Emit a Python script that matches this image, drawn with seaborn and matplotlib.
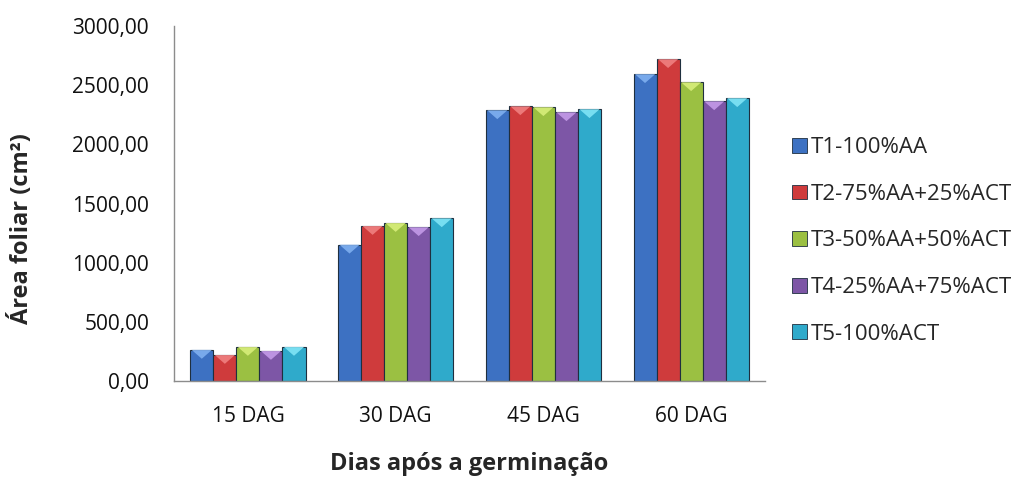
"""Leaf area by days after germination, five treatments (grouped bars)."""

import matplotlib
matplotlib.use("Agg")
import matplotlib.pyplot as plt
from matplotlib.patches import Polygon
from matplotlib.ticker import FuncFormatter
import pandas as pd
import seaborn as sns

DAYS = ["15 DAG", "30 DAG", "45 DAG", "60 DAG"]
TREATMENTS = ["T1-100%AA", "T2-75%AA+25%ACT", "T3-50%AA+50%ACT",
              "T4-25%AA+75%ACT", "T5-100%ACT"]
T1 = [263, 1152, 2288, 2593]
T2 = [220, 1310, 2322, 2720]
T3 = [288, 1335, 2314, 2525]
T4 = [254, 1300, 2271, 2364]
T5 = [288, 1375, 2297, 2390]
COLORS = ["#3d71c2", "#cf3b3c", "#9bc042", "#7d56a6", "#2faacb"]
LIGHT = ["#7fb0f0", "#f08080", "#d8ee7a", "#c49ae8", "#80e4f6"]


def main() -> None:
    rows = []
    for name, vals in zip(TREATMENTS, [T1, T2, T3, T4, T5]):
        for d, v in zip(DAYS, vals):
            rows.append({"dag": d, "area": v, "trat": name})
    df = pd.DataFrame(rows)

    sns.set_theme(style="white")
    plt.rcParams["font.family"] = ["Open Sans", "DejaVu Sans"]

    fig = plt.figure(figsize=(10.2, 4.79), dpi=100)
    ax = fig.add_axes([0.1706, 0.2046, 0.5794, 0.7411])
    sns.barplot(data=df, x="dag", y="area", hue="trat", order=DAYS,
                hue_order=TREATMENTS, palette=COLORS, saturation=1, width=0.78,
                edgecolor="#1f2f3f", linewidth=0.8, legend=False, ax=ax)

    # bevel highlight on top of each bar, taken from the bar geometry
    for i, cont in enumerate(ax.containers):
        for p in cont.patches:
            x0, w, h = p.get_x(), p.get_width(), p.get_height()
            tri = Polygon([(x0 + 0.06 * w, h), (x0 + 0.94 * w, h), (x0 + 0.5 * w, h - 75)],
                          closed=True, facecolor=LIGHT[i], edgecolor="none", alpha=0.9, zorder=3)
            ax.add_patch(tri)

    ax.set_ylim(0, 3000)
    ax.set_yticks(range(0, 3001, 500))
    ax.yaxis.set_major_formatter(FuncFormatter(lambda v, _: f"{v:.2f}".replace(".", ",")))
    ax.tick_params(axis="both", length=0, labelsize=15, colors="#111111")
    ax.tick_params(axis="y", pad=18)
    ax.tick_params(axis="x", pad=18)
    for s in ["top", "right"]:
        ax.spines[s].set_visible(False)
    for s in ["left", "bottom"]:
        ax.spines[s].set_color("#8c8c8c")
        ax.spines[s].set_linewidth(1.0)

    ax.set_xlabel("Dias após a germinação", fontsize=17, fontweight="bold", labelpad=18)
    ax.set_ylabel("Área foliar (cm²)", fontsize=17, fontweight="bold")
    ax.yaxis.set_label_coords(-0.237, 0.43)

    handles = [plt.Rectangle((0, 0), 1, 1, facecolor=c, edgecolor="#1f2f3f", linewidth=0.6)
               for c in COLORS]
    fig.legend(handles, TREATMENTS, loc="center left", bbox_to_anchor=(0.757, 0.497),
               frameon=False, fontsize=16, handlelength=0.65, handleheight=0.65,
               handletextpad=0.2, labelspacing=1.15)

    fig.savefig("out.png", dpi=100)
    plt.close(fig)


if __name__ == "__main__":
    main()
